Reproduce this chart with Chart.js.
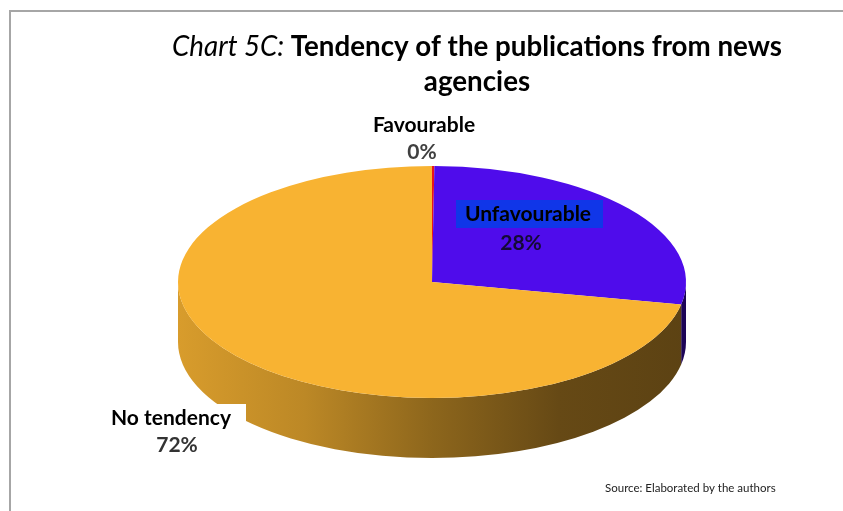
<!DOCTYPE html>
<html>
<head>
<meta charset="utf-8">
<script src="https://cdn.jsdelivr.net/npm/chart.js@4/dist/chart.umd.min.js"></script>
<style>
  html, body { margin: 0; padding: 0; background: #fff; }
  #wrap { position: relative; width: 843px; height: 511px; }
</style>
</head>
<body>
<div id="wrap"><canvas id="c"></canvas></div>
<script>
// ---- data ----
const categories = ['Favourable', 'Unfavourable', 'No tendency'];
const shares = [0.15, 28, 72];          // percent of publications (Favourable ≈ 0%)
const sliceColors = ['#E8141A', '#4F0CEB', '#F8B332'];

// ---- layout ----
const GEOM = { cx: 432, cy: 282, rx: 254, ry: 116, depth: 60 };
const TITLE = { italic: 'Chart 5C: ', bold: 'Tendency of the publications from news', line2: 'agencies' };
const SOURCE = 'Source: Elaborated by the authors';
const FONT = 'Lato, "Open Sans", sans-serif';

function rgb(hex) {
  const n = parseInt(hex.slice(1), 16);
  return [(n >> 16) & 255, (n >> 8) & 255, n & 255];
}
function shade(hex, f) {
  const [r, g, b] = rgb(hex);
  return `rgb(${Math.round(r * f)},${Math.round(g * f)},${Math.round(b * f)})`;
}
function pct(i) {
  const tot = shares.reduce((a, b) => a + b, 0);
  return Math.round(shares[i] / tot * 100) + '%';
}

const pie3d = {
  id: 'pie3d',
  beforeDatasetsDraw(chart) {
    const ctx = chart.ctx;
    const meta = chart.getDatasetMeta(0);
    const r = meta.controller.outerRadius;
    const ox = meta.data[0].x, oy = meta.data[0].y;
    const { cx, cy, rx, ry, depth } = GEOM;
    // side wall (front half only)
    meta.data.forEach((arc, i) => {
      const s = Math.max(arc.startAngle, 0);
      const e = Math.min(arc.endAngle, Math.PI);
      if (e <= s) return;
      const col = sliceColors[i];
      const g = ctx.createLinearGradient(cx - rx, 0, cx + rx, 0);
      g.addColorStop(0, shade(col, 0.87));
      g.addColorStop(0.25, shade(col, 0.76));
      g.addColorStop(0.5, shade(col, 0.57));
      g.addColorStop(0.75, shade(col, 0.41));
      g.addColorStop(1, shade(col, 0.37));
      ctx.save();
      ctx.beginPath();
      ctx.ellipse(cx, cy, rx, ry, 0, s, e, false);
      ctx.ellipse(cx, cy + depth, rx, ry, 0, e, s, true);
      ctx.closePath();
      ctx.fillStyle = g;
      ctx.fill();
      ctx.restore();
    });
    // flatten the top face into an ellipse
    ctx.save();
    ctx.translate(cx, cy);
    ctx.scale(rx / r, ry / r);
    ctx.translate(-ox, -oy);
  },
  afterDatasetsDraw(chart) {
    chart.ctx.restore();
  },
  afterDraw(chart) {
    const ctx = chart.ctx;
    ctx.save();
    // frame
    ctx.strokeStyle = '#A6A6A6';
    ctx.lineWidth = 2;
    ctx.beginPath();
    ctx.moveTo(10, 520);
    ctx.lineTo(10, 11);
    ctx.lineTo(850, 11);
    ctx.stroke();

    // title
    ctx.fillStyle = '#000';
    ctx.textBaseline = 'alphabetic';
    const fs = 29;
    ctx.font = `italic ${fs}px ${FONT}`;
    const w1 = ctx.measureText(TITLE.italic).width;
    ctx.font = `bold ${fs}px ${FONT}`;
    const w2 = ctx.measureText(TITLE.bold).width;
    const target = 610;
    const k = Math.min(1, target / (w1 + w2));
    const x0 = 477 - (w1 + w2) * k / 2;
    ctx.textAlign = 'left';
    ctx.font = `italic ${fs}px ${FONT}`;
    ctx.fillText(TITLE.italic, x0, 56, w1 * k);
    ctx.font = `bold ${fs}px ${FONT}`;
    ctx.fillText(TITLE.bold, x0 + w1 * k, 56, w2 * k);
    ctx.textAlign = 'center';
    const w3 = ctx.measureText(TITLE.line2).width;
    ctx.fillText(TITLE.line2, 477, 91, w3 * k);

    // label boxes
    ctx.fillStyle = '#1036E8';
    ctx.fillRect(456, 200, 147, 28);
    ctx.fillStyle = '#fff';
    ctx.fillRect(100, 404, 146, 28);

    const lf = `bold 21px ${FONT}`;
    function label(text, x, y, color, maxW) {
      ctx.font = lf;
      ctx.fillStyle = color;
      const w = ctx.measureText(text).width;
      ctx.fillText(text, x, y, Math.min(w, maxW));
    }
    ctx.textAlign = 'center';
    ctx.textBaseline = 'middle';
    label(categories[0], 424, 125, '#000', 104);
    label(pct(0), 422, 152, '#404040', 40);
    label(categories[1], 528, 214, '#000', 130);
    label(pct(1), 521, 243, '#140A35', 50);
    label(categories[2], 171, 418, '#000', 121);
    label(pct(2), 177, 445, '#333', 46);

    // source
    ctx.font = `11.5px ${FONT}`;
    ctx.fillStyle = '#222';
    ctx.textAlign = 'left';
    ctx.fillText(SOURCE, 605, 488, 171);
    ctx.restore();
  }
};

new Chart(document.getElementById('c'), {
  type: 'pie',
  data: {
    labels: categories,
    datasets: [{
      data: shares,
      backgroundColor: sliceColors,
      borderWidth: 0,
      clip: false
    }]
  },
  options: {
    responsive: true,
    maintainAspectRatio: false,
    animation: false,
    events: [],
    layout: { padding: 0 },
    plugins: {
      legend: { display: false },
      tooltip: { enabled: false },
      title: { display: false }
    }
  },
  plugins: [pie3d]
});
</script>
</body>
</html>
